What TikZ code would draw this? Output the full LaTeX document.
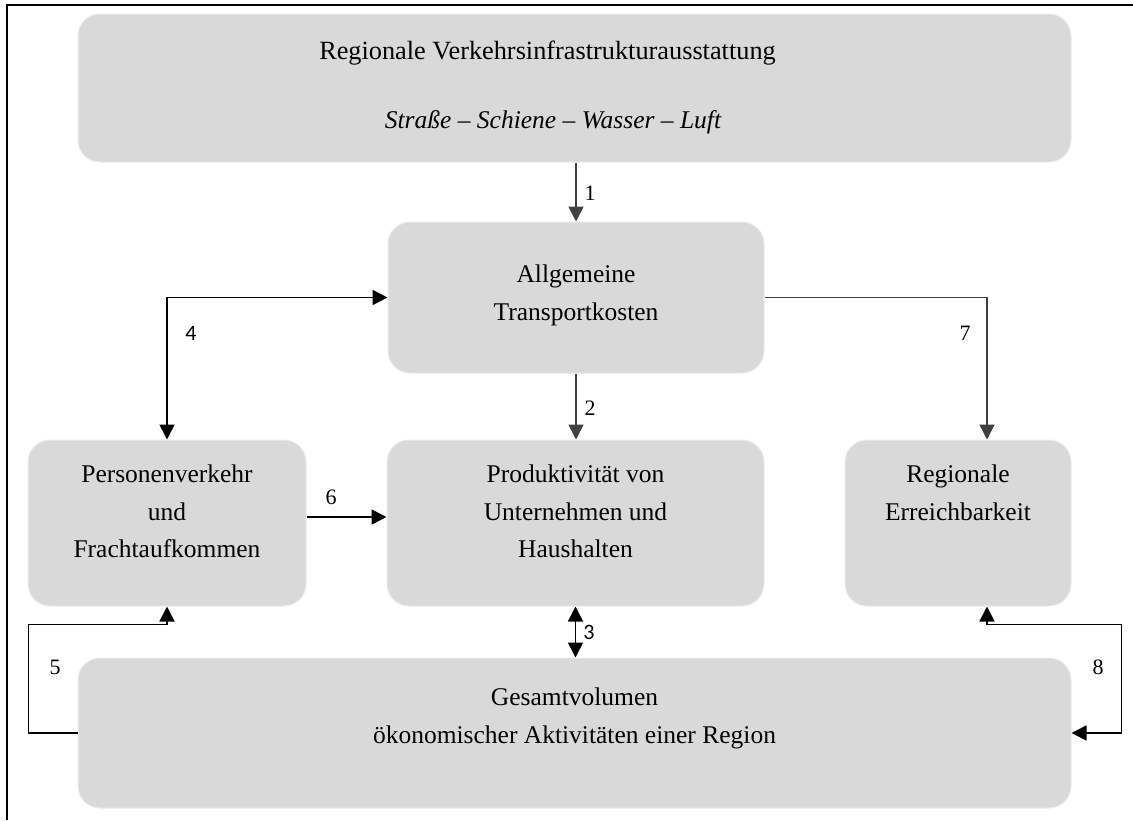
\documentclass[tikz,border=0pt]{standalone}
\usepackage{fontspec}
\setmainfont{Liberation Serif}
\newfontfamily\sansnum{Carlito}
\usetikzlibrary{arrows.meta,calc}
\definecolor{boxgray}{HTML}{D9D9D9}
\definecolor{arrgray}{HTML}{404040}
\begin{document}
\begin{tikzpicture}[x=1pt, y=-1pt, >={Triangle[width=15pt,length=15pt]},
    box/.style={fill=boxgray, draw=white!92!black, line width=1pt, rounded corners=22pt, inner sep=0pt},
    txt/.style={align=center, inner sep=0pt, font=\fontsize{25.5}{37.5}\selectfont},
    num/.style={inner sep=0pt, font=\fontsize{22}{26}\selectfont},
    conn/.style={line width=1.6pt}]
    \useasboundingbox (0,0) rectangle (1133,820);
    \draw[line width=2pt] (7,820) -- (7,5) -- (1133,5);
    % boxes
    \node[box, minimum width=993pt, minimum height=148pt] (infra) at (574.5,88) {};
    \node[box, minimum width=376pt, minimum height=151pt] (kosten) at (576,297.5) {};
    \node[box, minimum width=278pt, minimum height=166pt] (verkehr) at (167,523) {};
    \node[box, minimum width=377pt, minimum height=166pt] (prod) at (575.5,523) {};
    \node[box, minimum width=226pt, minimum height=166pt] (erreich) at (958,523) {};
    \node[box, minimum width=993pt, minimum height=150pt] (gesamt) at (574.5,733) {};
    % texts
    \node[txt, anchor=base, font=\fontsize{26.3}{37.5}\selectfont] (infra-a) at (547.5,59) {Regionale Verkehrsinfrastrukturausstattung};
    \node[txt, anchor=base] (infra-b) at (553,128) {\itshape Straße -- Schiene -- Wasser -- Luft};
    \node[txt] (kosten-t) at (576,295.5) {Allgemeine\\Transportkosten};
    \node[txt, anchor=north] (verkehr-t) at (167,465) {Personenverkehr\\und\\Frachtaufkommen};
    \node[txt, anchor=north] (prod-t) at (575.5,465) {Produktivität von\\Unternehmen und\\Haushalten};
    \node[txt, anchor=north] (erreich-t) at (958,465) {Regionale\\Erreichbarkeit};
    \node[txt, anchor=north] (gesamt-t) at (574.5,688) {Gesamtvolumen\\ökonomischer Aktivitäten einer Region};
    % connectors
    \draw[conn, arrgray, ->] (kosten.north |- infra.south) -- (kosten.north);
    \draw[conn, arrgray, ->] (kosten.south) -- (kosten.south |- prod.north);
    \draw[conn, <->] (prod.south) -- (prod.south |- gesamt.north);
    \draw[conn, <->] (verkehr.north) |- (kosten.west);
    \draw[conn, ->] (gesamt.west) -- ++(-49,0) |- ($(verkehr.south)+(0,18)$) -- (verkehr.south);
    \draw[conn, ->] ([yshift=6pt]verkehr.east) -- ([yshift=6pt]verkehr.east -| prod.west);
    \draw[conn, arrgray, ->] (kosten.east) -| ([xshift=29pt]erreich.north);
    \draw[conn, <->] ([xshift=29pt]erreich.south) -- ++(0,18) -| ([xshift=50pt]gesamt.east) -- (gesamt.east);
    % numbers
    \node[num] (n1) at (590,193) {1};
    \node[num] (n2) at (590,408) {2};
    \node[num, font=\sansnum\fontsize{22}{26}\selectfont] (n3) at (589,632) {3};
    \node[num, font=\sansnum\fontsize{22}{26}\selectfont] (n4) at (191,333) {4};
    \node[num] (n5) at (55,667) {5};
    \node[num] (n6) at (331,497) {6};
    \node[num] (n7) at (965,333) {7};
    \node[num] (n8) at (1098,667) {8};
\end{tikzpicture}
\end{document}
